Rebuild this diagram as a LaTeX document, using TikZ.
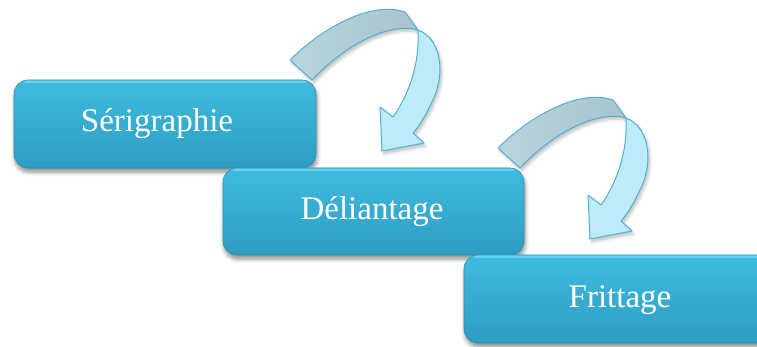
\documentclass[tikz,border=0pt]{standalone}
\usepackage{fontspec}
\setmainfont{Liberation Serif}
\usetikzlibrary{shadows.blur}
\definecolor{boxtop}{HTML}{40BBDF}
\definecolor{boxbot}{HTML}{2D9DC2}
\definecolor{boxhi}{HTML}{6ADBF5}
\definecolor{boxedge}{HTML}{2A8FB0}
\definecolor{grayfill}{HTML}{A6C4CE}
\definecolor{grayfill2}{HTML}{BBD4DC}
\definecolor{bluefill}{HTML}{BEEBFA}
\definecolor{arrowedge}{HTML}{4FB2D2}
\tikzset{
  stepbox/.style={rounded corners=14pt, minimum width=#1, minimum height=88pt,
    inner sep=0pt, outer sep=0pt, draw=boxedge, line width=0.6pt,
    top color=boxtop, bottom color=boxbot,
    blur shadow={shadow xshift=1pt, shadow yshift=-4pt, shadow blur steps=6,
      shadow blur radius=4pt, shadow opacity=45},
    path picture={\fill[boxhi, opacity=0.8] (path picture bounding box.north west)
      rectangle ([yshift=-3pt]path picture bounding box.north east);}},
  lbl/.style={text=white, font=\fontsize{33}{36}\selectfont, inner sep=0pt, anchor=base},
  bandgray/.style={draw=arrowedge, line width=1pt, left color=grayfill2, right color=grayfill, line join=round},
  bandblue/.style={draw=arrowedge, line width=1pt, fill=bluefill, line join=round},
  arrshadow/.style={blur shadow={shadow xshift=2pt, shadow yshift=-3pt, shadow blur steps=5,
      shadow blur radius=3pt, shadow opacity=25}},
}
\newcommand\bendarrow[1]{%
  \begin{scope}[shift={#1}]
    \path[bandgray, arrshadow] (290,60) .. controls (320,30) and (370,0) .. (405,12)
      -- (418,30) .. controls (400,24) and (358,32) .. (312,80) -- cycle;
    \path[bandblue, arrshadow] (418,30) .. controls (440,38) and (445,70) .. (435,95)
      .. controls (428,112) and (420,125) .. (413,133) -- (424,143) -- (382,151)
      -- (380,107) -- (393,117) .. controls (405,100) and (420,70) .. (418,30) -- cycle;
  \end{scope}}
\begin{document}
\begin{tikzpicture}[x=1pt, y=-1pt]
  \useasboundingbox (0,0) rectangle (757,347);
  \clip (0,0) rectangle (757,347);
  \node[stepbox=302pt] (b1) at (165,124) {};
  \node[lbl] (t1) at (157,132) {Sérigraphie};
  \node[stepbox=301pt, minimum height=87pt] (b2) at (373.5,211.5) {};
  \node[lbl] (t2) at (372,220) {Déliantage};
  \node[stepbox=312pt] (b3) at (620,299) {};
  \node[lbl] (t3) at (620,307) {Frittage};
  \bendarrow{(0,0)}
  \bendarrow{(208,88)}
\end{tikzpicture}
\end{document}
